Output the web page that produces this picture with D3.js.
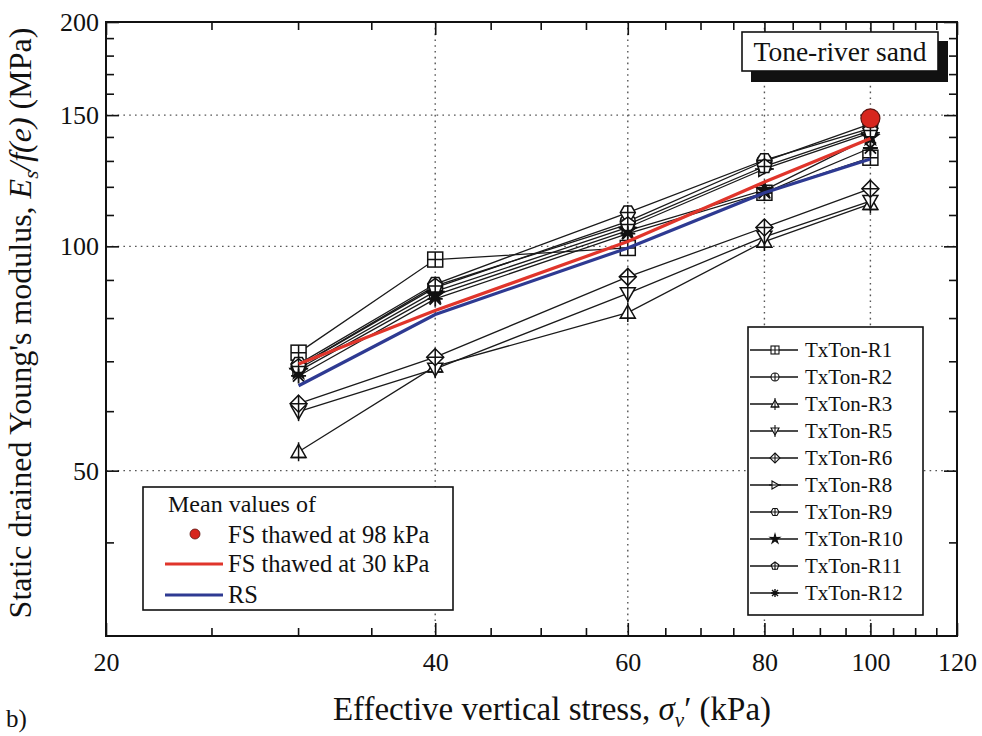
<!DOCTYPE html>
<html>
<head>
<meta charset="utf-8">
<script src="https://cdn.jsdelivr.net/npm/d3@7/dist/d3.min.js"></script>
<style>
  html, body { margin: 0; padding: 0; background: #fff; }
  svg text { font-family: "Liberation Serif", "Times New Roman", serif; fill: #111; }
</style>
</head>
<body>
<svg id="chart" width="982" height="736"></svg>
<script>
// Effective vertical stress (kPa) at which each test was sheared
const stress = [30, 40, 60, 80, 100];

// Es/f(e) (MPa) for each Tone-river sand specimen
const seriesNames = ["TxTon-R1", "TxTon-R2", "TxTon-R3", "TxTon-R5", "TxTon-R6",
                     "TxTon-R8", "TxTon-R9", "TxTon-R10", "TxTon-R11", "TxTon-R12"];
const valR1  = [72, 96, 99.5, 118, 131.5];
const valR2  = [69, 88, 108, 130, 146];
const valR3  = [53, 69, 81.5, 101.5, 114];
const valR5  = [60, 68.5, 86.5, 103, 115];
const valR6  = [61.5, 71, 91, 106, 119.5];
const valR8  = [68.5, 87, 106, 127, 142];
const valR9  = [69.5, 89, 111, 130.5, 144];
const valR10 = [68, 86, 105, 119, 140];
const valR11 = [69, 88.5, 107, 128, 143];
const valR12 = [67, 85, 104, 118, 135.5];

// Mean values
const meanFS30 = [69.5, 82, 101.5, 122, 139.5];   // FS thawed at 30 kPa
const meanRS   = [65, 81, 99.5, 118, 131];        // RS
const meanFS98Stress = [100];
const meanFS98Value  = [148.5];                    // FS thawed at 98 kPa

const xTickValues = [20, 40, 60, 80, 100, 120];
const yTickValues = [50, 100, 150, 200];

const seriesValues = [valR1, valR2, valR3, valR5, valR6, valR8, valR9, valR10, valR11, valR12];
const markerKinds = ["squarePlus", "circlePlus", "triUp", "triDown", "diamondPlus",
                     "triRight", "hexPlus", "star", "pentPlus", "asterisk"];

const svg = d3.select("#chart");
const frame = { left: 106, right: 957, top: 22, bottom: 636 };

const x = d3.scaleLog().domain([20, 120]).range([frame.left, frame.right]);
const y = d3.scaleLog().domain([30, 200]).range([frame.bottom, frame.top]);

// dotted grid
const grid = svg.append("g").attr("stroke", "#555").attr("stroke-width", 1.4)
  .attr("stroke-dasharray", "1.6,4.2");
[40, 60, 80, 100].forEach(v => grid.append("line")
  .attr("x1", x(v)).attr("x2", x(v)).attr("y1", frame.top).attr("y2", frame.bottom));
[50, 100, 150].forEach(v => grid.append("line")
  .attr("x1", frame.left).attr("x2", frame.right).attr("y1", y(v)).attr("y2", y(v)));

// ticks on all four sides, pointing inward
const xMinor = d3.range(25, 120, 5).filter(v => !xTickValues.includes(v));
const yMinor = d3.range(30, 200, 10).filter(v => !yTickValues.includes(v));
const major = 13, minor = 8;

const bottomAxis = d3.axisBottom(x).tickValues(xTickValues).tickFormat(d3.format("d"))
  .tickSizeInner(-major).tickSizeOuter(0).tickPadding(17);
const gB = svg.append("g").attr("transform", `translate(0,${frame.bottom})`).call(bottomAxis);
gB.append("g").selectAll("line").data(xMinor).join("line")
  .attr("x1", d => x(d)).attr("x2", d => x(d)).attr("y1", 0).attr("y2", -minor)
  .attr("stroke", "#111");

const topAxis = d3.axisTop(x).tickValues(xTickValues).tickFormat("")
  .tickSizeInner(-major).tickSizeOuter(0);
const gT = svg.append("g").attr("transform", `translate(0,${frame.top})`).call(topAxis);
gT.append("g").selectAll("line").data(xMinor).join("line")
  .attr("x1", d => x(d)).attr("x2", d => x(d)).attr("y1", 0).attr("y2", minor)
  .attr("stroke", "#111");

const leftAxis = d3.axisLeft(y).tickValues(yTickValues).tickFormat(d3.format("d"))
  .tickSizeInner(-major).tickSizeOuter(0).tickPadding(7);
const gL = svg.append("g").attr("transform", `translate(${frame.left},0)`).call(leftAxis);
gL.append("g").selectAll("line").data(yMinor).join("line")
  .attr("y1", d => y(d)).attr("y2", d => y(d)).attr("x1", 0).attr("x2", minor)
  .attr("stroke", "#111");

const rightAxis = d3.axisRight(y).tickValues(yTickValues).tickFormat("")
  .tickSizeInner(-major).tickSizeOuter(0);
const gR = svg.append("g").attr("transform", `translate(${frame.right},0)`).call(rightAxis);
gR.append("g").selectAll("line").data(yMinor).join("line")
  .attr("y1", d => y(d)).attr("y2", d => y(d)).attr("x1", 0).attr("x2", -minor)
  .attr("stroke", "#111");

[gB, gT, gL, gR].forEach(g => {
  g.select(".domain").remove();
  g.selectAll("line").attr("stroke", "#111").attr("stroke-width", 1.6);
  g.selectAll("text").style("font-size", "26px").attr("fill", "#111")
    .style("font-family", '"Liberation Serif", serif');
});

// plot frame
svg.append("rect").attr("x", frame.left).attr("y", frame.top)
  .attr("width", frame.right - frame.left).attr("height", frame.bottom - frame.top)
  .attr("fill", "none").attr("stroke", "#111").attr("stroke-width", 2);

// marker shapes (hollow with inner strokes)
function drawMarker(g, kind, s, sw) {
  const h = s / 2;
  const st = { fill: "#fff", stroke: "#111", "stroke-width": sw };
  const add = (tag, attrs) => {
    const el = g.append(tag);
    Object.entries(Object.assign({}, st, attrs)).forEach(([k, v]) => el.attr(k, v));
    return el;
  };
  const plus = (r) => add("path", { d: `M${-r},0H${r}M0,${-r}V${r}`, fill: "none" });
  const poly = (n, rot) => {
    const pts = d3.range(n).map(i => {
      const a = rot + i * 2 * Math.PI / n;
      return [h * Math.cos(a), h * Math.sin(a)];
    });
    return add("path", { d: "M" + pts.join("L") + "Z" });
  };
  switch (kind) {
    case "squarePlus":
      add("rect", { x: -h, y: -h, width: s, height: s }); plus(h); break;
    case "circlePlus":
      add("circle", { r: h }); plus(h); break;
    case "triUp":
      add("path", { d: `M0,${-h}L${h},${h * 0.75}L${-h},${h * 0.75}Z` });
      add("path", { d: `M0,${-h - 2}V${h + 2}M${-h},${h * 0.75}H${h}`, fill: "none" }); break;
    case "triDown":
      add("path", { d: `M0,${h}L${h},${-h * 0.75}L${-h},${-h * 0.75}Z` });
      add("path", { d: `M0,${h + 2}V${-h - 2}`, fill: "none" }); break;
    case "diamondPlus":
      add("path", { d: `M0,${-h - 1}L${h + 1},0L0,${h + 1}L${-h - 1},0Z` }); plus(h + 1); break;
    case "triRight":
      add("path", { d: `M${h},0L${-h * 0.75},${-h}L${-h * 0.75},${h}Z` });
      add("path", { d: `M${-h - 2},0H${h + 2}`, fill: "none" }); break;
    case "hexPlus":
      poly(6, 0); plus(h); break;
    case "pentPlus":
      poly(5, -Math.PI / 2); plus(h); break;
    case "star": {
      const pts = d3.range(10).map(i => {
        const r = i % 2 === 0 ? h + 1 : h * 0.45;
        const a = -Math.PI / 2 + i * Math.PI / 5;
        return [r * Math.cos(a), r * Math.sin(a)];
      });
      add("path", { d: "M" + pts.join("L") + "Z", fill: "#111" }); break;
    }
    case "asterisk": {
      const r = h;
      add("path", { d: `M${-r},0H${r}M0,${-r}V${r}M${-r * 0.75},${-r * 0.75}L${r * 0.75},${r * 0.75}M${-r * 0.75},${r * 0.75}L${r * 0.75},${-r * 0.75}`, fill: "none", "stroke-width": sw + 0.3 });
      break;
    }
  }
}

const line = d3.line().x(d => x(d[0])).y(d => y(d[1]));

// specimen series
const seriesG = svg.append("g");
seriesValues.forEach((vals, i) => {
  const pts = stress.map((s, j) => [s, vals[j]]);
  seriesG.append("path").attr("d", line(pts)).attr("fill", "none")
    .attr("stroke", "#1a1a1a").attr("stroke-width", 1.3);
});
seriesValues.forEach((vals, i) => {
  stress.forEach((s, j) => {
    const g = seriesG.append("g").attr("transform", `translate(${x(s)},${y(vals[j])})`);
    drawMarker(g, markerKinds[i], 15, 1.5);
  });
});

// mean lines
svg.append("path").attr("d", line(stress.map((s, j) => [s, meanRS[j]])))
  .attr("fill", "none").attr("stroke", "#2e3a92").attr("stroke-width", 3.2);
svg.append("path").attr("d", line(stress.map((s, j) => [s, meanFS30[j]])))
  .attr("fill", "none").attr("stroke", "#e0352b").attr("stroke-width", 3.2);
svg.selectAll(".fs98").data(meanFS98Stress).join("circle").attr("class", "fs98")
  .attr("cx", d => x(d)).attr("cy", (d, i) => y(meanFS98Value[i])).attr("r", 9.5)
  .attr("fill", "#d7261e").attr("stroke", "#5a1410").attr("stroke-width", 1.2);

// specimen legend
const lg = svg.append("g");
lg.append("rect").attr("x", 748).attr("y", 327).attr("width", 175).attr("height", 288)
  .attr("fill", "#fff").attr("stroke", "#111").attr("stroke-width", 1.6);
seriesNames.forEach((name, i) => {
  const yy = 350 + i * 27;
  lg.append("line").attr("x1", 750).attr("x2", 798).attr("y1", yy).attr("y2", yy)
    .attr("stroke", "#111").attr("stroke-width", 1.3);
  const g = lg.append("g").attr("transform", `translate(775,${yy})`);
  drawMarker(g, markerKinds[i], 8, 1.1);
  lg.append("text").attr("x", 805).attr("y", yy + 7).style("font-size", "21px").text(name);
});

// mean values legend
const mg = svg.append("g");
mg.append("rect").attr("x", 143).attr("y", 487).attr("width", 310).attr("height", 123)
  .attr("fill", "#fff").attr("stroke", "#111").attr("stroke-width", 1.6);
mg.append("text").attr("x", 168).attr("y", 512).style("font-size", "24px").text("Mean values of");
mg.append("circle").attr("cx", 195).attr("cy", 534).attr("r", 5)
  .attr("fill", "#d7261e").attr("stroke", "#5a1410").attr("stroke-width", 0.8);
mg.append("text").attr("x", 228).attr("y", 543).style("font-size", "24.5px").text("FS thawed at 98 kPa");
mg.append("line").attr("x1", 165).attr("x2", 223).attr("y1", 564).attr("y2", 564)
  .attr("stroke", "#e0352b").attr("stroke-width", 3.2);
mg.append("text").attr("x", 228).attr("y", 572).style("font-size", "24.5px").text("FS thawed at 30 kPa");
mg.append("line").attr("x1", 165).attr("x2", 223).attr("y1", 595).attr("y2", 595)
  .attr("stroke", "#2e3a92").attr("stroke-width", 3.2);
mg.append("text").attr("x", 228).attr("y", 603).style("font-size", "24.5px").text("RS");

// sample label with drop shadow
const tg = svg.append("g");
tg.append("rect").attr("x", 751).attr("y", 41).attr("width", 197).attr("height", 41).attr("fill", "#111");
tg.append("rect").attr("x", 742).attr("y", 32).attr("width", 196).attr("height", 39)
  .attr("fill", "#fff").attr("stroke", "#111").attr("stroke-width", 1.6);
tg.append("text").attr("x", 840).attr("y", 61).attr("text-anchor", "middle")
  .style("font-size", "27.5px").text("Tone-river sand");

// axis titles
const xt = svg.append("text").attr("x", 552).attr("y", 720).attr("text-anchor", "middle")
  .style("font-size", "33px");
xt.append("tspan").text("Effective vertical stress, ");
xt.append("tspan").style("font-style", "italic").text("σ");
xt.append("tspan").attr("dy", 7).style("font-size", "21px").style("font-style", "italic").text("v");
xt.append("tspan").attr("dy", -7).text("′ (kPa)");

const yt = svg.append("text").attr("transform", "translate(31,323) rotate(-90)")
  .attr("text-anchor", "middle").style("font-size", "32px");
yt.append("tspan").text("Static drained Young's modulus, ");
yt.append("tspan").style("font-style", "italic").text("E");
yt.append("tspan").attr("dy", 7).style("font-size", "21px").style("font-style", "italic").text("s");
yt.append("tspan").attr("dy", -7).style("font-style", "italic").text("/f(e)");
yt.append("tspan").text(" (MPa)");

svg.append("text").attr("x", 6).attr("y", 727).style("font-size", "25px").text("b)");
</script>
</body>
</html>
